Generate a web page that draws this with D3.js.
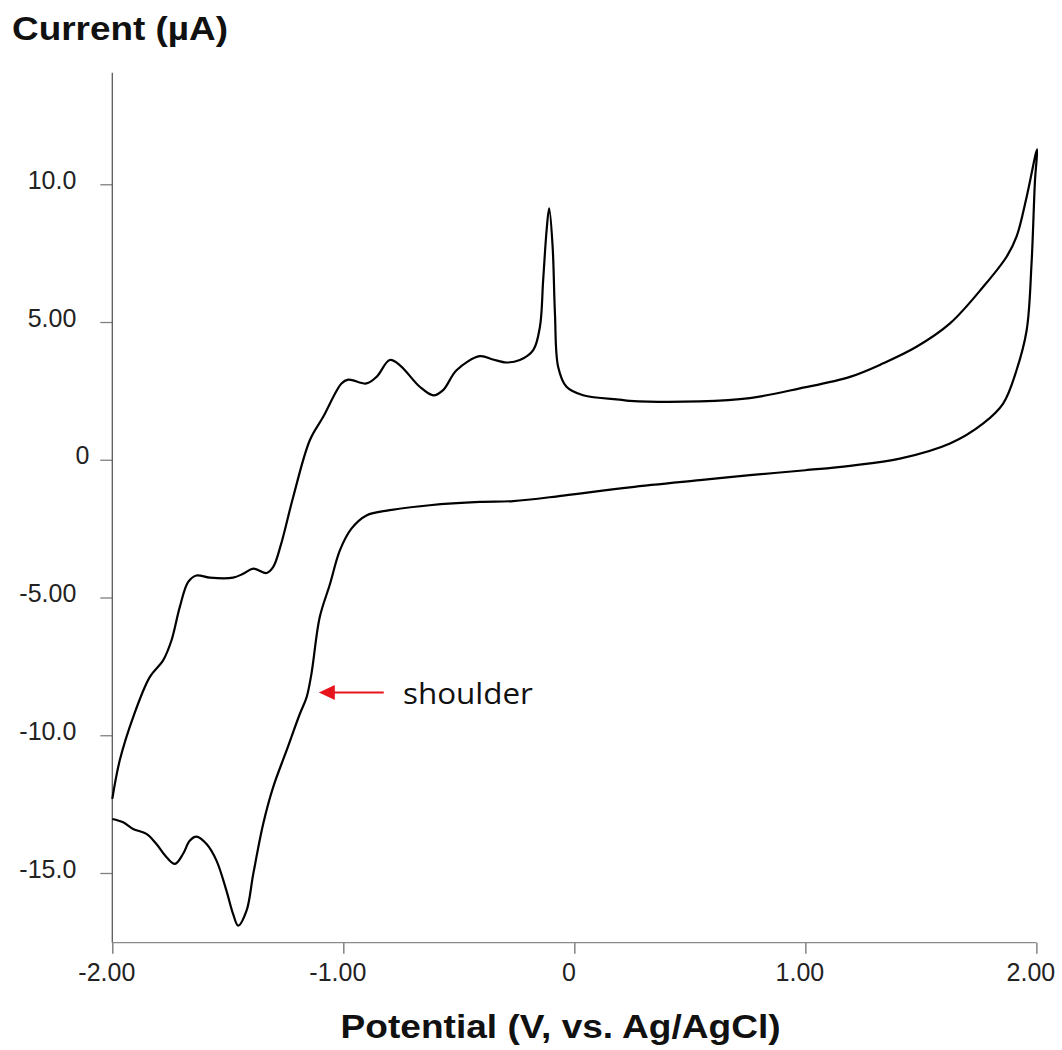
<!DOCTYPE html>
<html>
<head>
<meta charset="utf-8">
<script src="https://cdn.jsdelivr.net/npm/d3@7"></script>
<style>
  body { margin: 0; background: #fff; }
  svg { display: block; }
</style>
</head>
<body>
<svg id="chart" width="1062" height="1050"></svg>
<script>
// cyclic voltammogram (V vs Ag/AgCl, uA)
var potential = [
  -2.00, -1.953, -1.910, -1.852, -1.809, -1.765, -1.729, -1.694, -1.665, -1.636,
  -1.592, -1.549, -1.506, -1.477, -1.455, -1.419, -1.390, -1.347, -1.304, -1.246,
  -1.188, -1.159, -1.138, -1.102, -1.058, -1.015, -0.965, -0.900, -0.799, -0.626,
  -0.409, -0.265, -0.048, 0.240, 0.543, 0.760, 1.000, 1.193, 1.409, 1.626, 1.770,
  1.856, 1.914, 1.958, 1.979, 1.994, 2.003,
  1.958, 1.914, 1.871, 1.770, 1.626, 1.481, 1.337, 1.193, 0.976, 0.760,
  0.543, 0.240, 0.197, 0.038, -0.034, -0.070, -0.084, -0.094, -0.109, -0.120,
  -0.135, -0.149, -0.178, -0.236, -0.294, -0.352, -0.409, -0.510, -0.568, -0.611,
  -0.669, -0.755, -0.799, -0.856, -0.900, -0.979, -1.008, -1.087, -1.145, -1.217,
  -1.271, -1.304, -1.332, -1.390, -1.434, -1.477, -1.578, -1.636, -1.672, -1.708,
  -1.744, -1.780, -1.838, -1.910, -1.968, -2.00
];
var current = [
  -13.04, -13.16, -13.40, -13.58, -13.95, -14.43, -14.67, -14.31, -13.83, -13.68,
  -13.95, -14.55, -15.64, -16.49, -16.91, -16.37, -15.04, -13.22, -11.89, -10.56,
  -9.22, -8.62, -7.77, -5.71, -4.52, -3.29, -2.50, -2.02, -1.83, -1.65,
  -1.53, -1.50, -1.30, -1.00, -0.74, -0.56, -0.38, -0.22, 0.04, 0.59, 1.32,
  2.04, 3.25, 4.71, 7.13, 10.16, 11.27,
  9.55, 8.10, 7.37, 6.28, 4.95, 4.10, 3.50, 3.01, 2.59, 2.24,
  2.12, 2.14, 2.18, 2.34, 2.65, 3.37, 5.31, 7.73, 9.13, 8.34,
  6.52, 4.83, 3.98, 3.62, 3.53, 3.64, 3.76, 3.25, 2.53, 2.34,
  2.65, 3.43, 3.62, 3.01, 2.77, 2.91, 2.77, 1.56, 0.71, -1.35,
  -3.11, -3.90, -4.11, -3.95, -4.14, -4.28, -4.28, -4.20, -4.44, -5.35,
  -6.56, -7.28, -7.89, -9.35, -10.92, -12.31
];

var xTicks = [-2, -1, 0, 1, 2];
var xTickLabels = ["-2.00", "-1.00", "0", "1.00", "2.00"];
var yTicks = [10, 5, 0, -5, -10, -15];
var yTickLabels = ["10.0", "5.00", "0", "-5.00", "-10.0", "-15.0"];

var yTitle = "Current (\u00b5A)";
var xTitle = "Potential (V, vs. Ag/AgCl)";
var noteText = "shoulder";
var noteArrow = [[-0.825, -8.45], [-1.106, -8.45]];   // tail, tip
var noteAt = [-0.742, -8.86];

var svg = d3.select("#chart");

var x = d3.scaleLinear().domain([-2, 2]).range([112.3, 1036.4]);
var y = d3.scaleLinear().domain([-17.53, 14.05]).range([942.7, 72.7]);

var tickFont = "'Liberation Sans', Arial, sans-serif";

// y axis
var gy = svg.append("g")
    .attr("transform", "translate(" + x(-2) + ",0)")
    .call(d3.axisLeft(y)
      .tickValues(yTicks)
      .tickSize(12)
      .tickPadding(24)
      .tickFormat(function(d, i) { return yTickLabels[i]; }));
gy.select(".domain").remove();
gy.append("line")
    .attr("y1", y.range()[1]).attr("y2", y.range()[0])
    .attr("stroke", "#5a5a5a").attr("stroke-width", 1.3);
gy.selectAll(".tick line").attr("stroke", "#808080").attr("stroke-width", 1.3);
gy.selectAll(".tick text")
    .attr("y", -4)
    .attr("dx", function(d) { return d === 0 ? 13 : 0; })
    .style("font-family", tickFont)
    .style("font-size", "25px")
    .attr("fill", "#222");

// x axis
var gx = svg.append("g")
    .attr("transform", "translate(0," + y(-17.53) + ")")
    .call(d3.axisBottom(x)
      .tickValues(xTicks)
      .tickSize(11)
      .tickPadding(10)
      .tickFormat(function(d, i) { return xTickLabels[i]; }));
gx.select(".domain").remove();
gx.append("line")
    .attr("x1", x.range()[0]).attr("x2", x.range()[1])
    .attr("stroke", "#8a8a8a").attr("stroke-width", 1.3);
gx.selectAll(".tick line").attr("stroke", "#707070").attr("stroke-width", 1.3);
gx.selectAll(".tick text")
    .attr("dx", -6)
    .style("font-family", tickFont)
    .style("font-size", "25px")
    .attr("fill", "#222");

// the scan
var pts = potential.map(function(v, i) { return [v, current[i]]; });
var line = d3.line()
    .x(function(d) { return x(d[0]); })
    .y(function(d) { return y(d[1]); })
    .curve(d3.curveCatmullRom.alpha(0.5));

svg.append("path")
    .datum(pts)
    .attr("d", line)
    .attr("fill", "none")
    .attr("stroke", "#000")
    .attr("stroke-width", 2.2)
    .attr("stroke-linejoin", "round");

// titles
svg.append("text")
    .attr("x", 12).attr("y", 40)
    .attr("textLength", 216).attr("lengthAdjust", "spacingAndGlyphs")
    .style("font-family", tickFont)
    .style("font-weight", "bold")
    .style("font-size", "33px")
    .attr("fill", "#111")
    .text(yTitle);

svg.append("text")
    .attr("x", 340.6).attr("y", 1038)
    .attr("textLength", 440).attr("lengthAdjust", "spacingAndGlyphs")
    .style("font-family", tickFont)
    .style("font-weight", "bold")
    .style("font-size", "33px")
    .attr("fill", "#111")
    .text(xTitle);

// shoulder note
var red = "#e8141c";
var tipX = x(noteArrow[1][0]), tipY = y(noteArrow[1][1]);
svg.append("line")
    .attr("x1", x(noteArrow[0][0])).attr("y1", y(noteArrow[0][1]))
    .attr("x2", tipX + 14).attr("y2", tipY)
    .attr("stroke", red).attr("stroke-width", 2);
svg.append("path")
    .attr("d", "M" + tipX + "," + tipY + "L" + (tipX + 16) + "," + (tipY - 7.5) +
               "L" + (tipX + 16) + "," + (tipY + 7.5) + "Z")
    .attr("fill", red);

svg.append("text")
    .attr("x", x(noteAt[0])).attr("y", y(noteAt[1]))
    .attr("textLength", 130).attr("lengthAdjust", "spacingAndGlyphs")
    .style("font-family", "'Open Sans', sans-serif")
    .style("font-size", "29px")
    .attr("fill", "#111")
    .text(noteText);
</script>
</body>
</html>
